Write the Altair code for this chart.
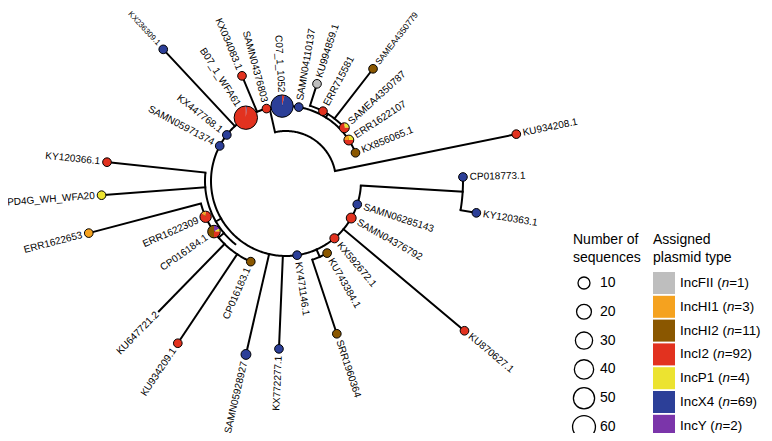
import math
import pandas as pd
import altair as alt

# ---------------- data ----------------
TYPES = ["IncFII", "IncHI1", "IncHI2", "IncI2", "IncP1", "IncX4", "IncY"]
TYPE_N = [1, 3, 11, 92, 4, 69, 2]
TYPE_COLORS = ["#bebebe", "#f5a21f", "#8a5700", "#e2321f", "#ece330", "#2c3f98", "#7b35aa"]

SIZE_LEVELS = [10, 20, 30, 40, 50, 60]

# leaves: angle (deg, clockwise from east), radius where branch starts, radius of tip
leaf_names = ["KX236309.1", "KX034083.1", "B07_1_WFA61", "SAMN04376803", "C07_1_1052",
              "SAMN04110137", "KU994859.1", "ERR715581", "SAMEA4350779", "SAMEA4350787",
              "ERR1622107", "KX856065.1", "KU934208.1", "CP018773.1", "KY120363.1",
              "SAMN06285143", "SAMN04376792", "KU870627.1", "KX592672.1", "KU743384.1",
              "SRR1960364", "KY471146.1", "KX772277.1", "SAMN05928927", "CP016183.1",
              "KU934209.1", "KU647721.2", "CP016184.1", "ERR1622309", "ERR1622653",
              "PD4G_WH_WFA20", "KY120366.1", "SAMN05971374", "KX447768.1"]
leaf_angle = [-133.0, -112.7, -122.4, -105.1, -93.0,
              -80.2, -72.3, -62.1, -52.2, -42.4,
              -33.1, -22.1, -11.5, -1.3, 9.5,
              18.2, 29.6, 40.0, 49.8, 60.3,
              71.6, 81.5, 92.4, 103.0, 113.6,
              123.7, 134.3, 144.9, 156.0, 165.2,
              175.6, 186.0, 207.9, 217.9]
leaf_base = [75, 75, 75, 75, 75,
             75, 79, 79, 79, 79,
             75, 75, 50, 177, 177,
             75, 75, 75, 75, 83,
             83, 75, 75, 75, 88,
             88, 88, 88, 88, 88,
             81, 81, 75, 75]
leaf_tip = [180, 114, 75, 75, 75,
            75, 102, 79, 142, 79,
            75, 75, 235, 177, 193,
            75, 75, 233, 75, 83,
            161, 75, 168, 178, 88,
            195, 182, 88, 88, 204,
            185, 180, 75, 75]
# sequences per plasmid type in each node (drawing order of pie slices)
leaf_mix = [
    [("IncX4", 1)], [("IncI2", 1)], [("IncX4", 1), ("IncI2", 62)], [("IncI2", 1)],
    [("IncI2", 2), ("IncX4", 55)],
    [("IncX4", 1)], [("IncFII", 1)], [("IncI2", 1)], [("IncHI2", 1)],
    [("IncP1", 1), ("IncI2", 3)],
    [("IncP1", 1), ("IncI2", 2), ("IncHI1", 1)], [("IncHI2", 1)], [("IncI2", 1)],
    [("IncX4", 1)], [("IncX4", 1)],
    [("IncX4", 1)], [("IncI2", 4)], [("IncI2", 1)], [("IncI2", 2)], [("IncHI2", 1)],
    [("IncHI2", 1)], [("IncX4", 1)], [("IncX4", 1)], [("IncX4", 4)], [("IncHI2", 1)],
    [("IncI2", 1)], [],
    [("IncY", 2), ("IncP1", 1), ("IncI2", 3), ("IncHI2", 6)],
    [("IncI2", 7), ("IncHI1", 1)], [("IncHI1", 1)],
    [("IncP1", 1)], [("IncI2", 1)], [("IncX4", 1)], [("IncX4", 1)],
]

# internal arcs of the circular tree: radius, start angle, end angle
arc_radius = [75, 50, 79, 177, 83, 81, 88]
arc_start = [3.5, 257.3, 287.7, -1.3, 60.3, 128.0, 113.6]
arc_end = [337.9, 348.5, 317.6, 9.5, 71.6, 186.0, 165.2]

# internal radial stems: angle, inner radius, outer radius
stem_angle = [257.3, 3.5, 302.0, 66.0, 150.0, 140.0]
stem_r0 = [50, 75, 75, 75, 75, 81]
stem_r1 = [75, 177, 79, 83, 81, 88]

# labels that touch the top edge are set a little smaller so they stay whole
LABEL_FS = 10
SMALL_LABELS = {"KX236309.1": 7.8, "SAMEA4350779": 8.6}

# ---------------- helpers ----------------
def polar(r, deg):
    a = math.radians(deg)
    return r * math.cos(a), r * math.sin(a)


def node_radius(n):
    return math.sqrt((53 + 6 * n) / math.pi)


ARIAL = {"I": 278, "n": 556, "c": 500, "F": 611, "H": 722, "P": 667, "X": 667,
         "Y": 667, " ": 278, "(": 333, ")": 333, "=": 584}


def text_w(s, size):
    return sum(ARIAL.get(ch, 556) for ch in s) * size / 1000.0


# ---------------- build tables ----------------
seg_rows = []
for a, r0, r1 in zip(stem_angle, stem_r0, stem_r1):
    x0, y0 = polar(r0, a)
    x1, y1 = polar(r1, a)
    seg_rows.append(dict(x=x0, y=y0, x2=x1, y2=y1))

arc_rows = []
for k, (r, a0, a1) in enumerate(zip(arc_radius, arc_start, arc_end)):
    npts = int(abs(a1 - a0)) + 2
    for i in range(npts):
        a = a0 + (a1 - a0) * i / (npts - 1)
        x, y = polar(r, a)
        arc_rows.append(dict(arc=k, i=i, x=x, y=y))

pie_rows, node_rows, lab_rows = [], [], []
for name, ang, rb, rt, mix in zip(leaf_names, leaf_angle, leaf_base, leaf_tip, leaf_mix):
    if rt > rb:
        x0, y0 = polar(rb, ang)
        x1, y1 = polar(rt, ang)
        seg_rows.append(dict(x=x0, y=y0, x2=x1, y2=y1))
    total = sum(c for _, c in mix)
    cx, cy = polar(rt, ang)
    rr = node_radius(total) if total else 0.0
    if total:
        acc = 0
        for t, c in mix:
            pie_rows.append(dict(x=cx, y=cy, r=rr, t0=2 * math.pi * acc / total,
                                 t1=2 * math.pi * (acc + c) / total, type=t))
            acc += c
        node_rows.append(dict(x=cx, y=cy, s=4 * rr * rr))
    lx, ly = polar(rt + rr + 2.5, ang)
    a = ang % 360
    right = a <= 90 or a >= 270
    lab_rows.append(dict(x=lx, y=ly, ang=(a if right else (a + 180) % 360),
                         side="R" if right else "L", label=name,
                         fs=SMALL_LABELS.get(name, LABEL_FS)))

seg_df = pd.DataFrame(seg_rows)
arc_df = pd.DataFrame(arc_rows)
pie_df = pd.DataFrame(pie_rows)
node_df = pd.DataFrame(node_rows)
lab_df = pd.DataFrame(lab_rows)

# legends (data coordinates = page pixels minus tree centre)
size_df = pd.DataFrame([dict(x=298, y=102 + 28.8 * i, s=4 * node_radius(v) ** 2,
                             lx=314, label=str(v)) for i, v in enumerate(SIZE_LEVELS)])
FS = 14
FS2 = 13.4
col_rows, col_txt = [], []
for i, (t, n) in enumerate(zip(TYPES, TYPE_N)):
    top = 91 + 23.8 * i
    col_rows.append(dict(x=367, x2=389, y=top, y2=top + 22, type=t))
    p1 = f"{t} ("
    x1 = 394
    x2 = x1 + text_w(p1, FS2)
    x3 = x2 + text_w("n", FS2)
    yc = top + 11
    col_txt.append(dict(x=x1, y=yc, label=p1, style="normal"))
    col_txt.append(dict(x=x2, y=yc, label="n", style="italic"))
    col_txt.append(dict(x=x3, y=yc, label=f"={n})", style="normal"))
col_df = pd.DataFrame(col_rows)
coltxt_df = pd.DataFrame(col_txt)
title_df = pd.DataFrame([
    dict(x=287, y=59, label="Number of"), dict(x=287, y=77, label="sequences"),
    dict(x=367, y=59, label="Assigned"), dict(x=367, y=77, label="plasmid type"),
])

# ---------------- chart ----------------
XS = alt.Scale(domain=[-278, 478], nice=False, zero=False)
YS = alt.Scale(domain=[-173, 252], nice=False, zero=False, reverse=True)
X = lambda f="x": alt.X(f"{f}:Q", scale=XS, axis=None)
Y = lambda f="y": alt.Y(f"{f}:Q", scale=YS, axis=None)
COL = alt.Color("type:N", scale=alt.Scale(domain=TYPES, range=TYPE_COLORS), legend=None)
FONT = "Liberation Sans"

arcs = alt.Chart(arc_df).mark_line(color="black", strokeWidth=2).encode(
    x=X(), y=Y(), detail="arc:N", order="i:Q")
segs = alt.Chart(seg_df).mark_rule(color="black", strokeWidth=2, strokeCap="square").encode(
    x=X(), y=Y(), x2="x2:Q", y2="y2:Q")
pies = alt.Chart(pie_df).mark_arc(stroke=None).encode(
    x=X(), y=Y(),
    radius=alt.Radius("r:Q", scale=None),
    theta=alt.Theta("t0:Q", scale=None), theta2="t1:Q",
    color=COL)
outl = alt.Chart(node_df).mark_point(shape="circle", filled=False, color="black",
                                     strokeWidth=1, opacity=1).encode(
    x=X(), y=Y(), size=alt.Size("s:Q", scale=None))
lab_r = alt.Chart(lab_df).transform_filter(alt.datum.side == "R").mark_text(
    align="left", baseline="middle", font=FONT, color="black").encode(
    x=X(), y=Y(), angle=alt.Angle("ang:Q", scale=None), text="label:N",
    size=alt.Size("fs:Q", scale=None))
lab_l = alt.Chart(lab_df).transform_filter(alt.datum.side == "L").mark_text(
    align="right", baseline="middle", font=FONT, color="black").encode(
    x=X(), y=Y(), angle=alt.Angle("ang:Q", scale=None), text="label:N",
    size=alt.Size("fs:Q", scale=None))

size_c = alt.Chart(size_df).mark_point(shape="circle", filled=False, color="black",
                                       strokeWidth=1.3, opacity=1).encode(
    x=X(), y=Y(), size=alt.Size("s:Q", scale=None))
size_t = alt.Chart(size_df).mark_text(align="left", baseline="middle", fontSize=FS,
                                      font=FONT, color="black").encode(
    x=X("lx"), y=Y(), text="label:N")
sw = alt.Chart(col_df).mark_rect().encode(x=X(), x2="x2:Q", y=Y(), y2="y2:Q", color=COL)
sw_t = alt.Chart(coltxt_df).transform_filter(alt.datum.style == "normal").mark_text(
    align="left", baseline="middle", fontSize=FS2, font=FONT, color="black").encode(
    x=X(), y=Y(), text="label:N")
sw_i = alt.Chart(coltxt_df).transform_filter(alt.datum.style == "italic").mark_text(
    align="left", baseline="middle", fontSize=FS2, font=FONT, fontStyle="italic",
    color="black").encode(x=X(), y=Y(), text="label:N")
titles = alt.Chart(title_df).mark_text(align="left", baseline="middle", fontSize=FS,
                                       font=FONT, color="black").encode(
    x=X(), y=Y(), text="label:N")

chart = alt.layer(arcs, segs, pies, outl, lab_r, lab_l, size_c, size_t, sw, sw_t, sw_i,
                  titles).properties(
    width=756, height=425, autosize=alt.AutoSizeParams(type="none"), padding=0,
    background="white"
).configure_view(stroke=None)

chart.save("out.html", embed_options={"renderer": "svg", "actions": False})
